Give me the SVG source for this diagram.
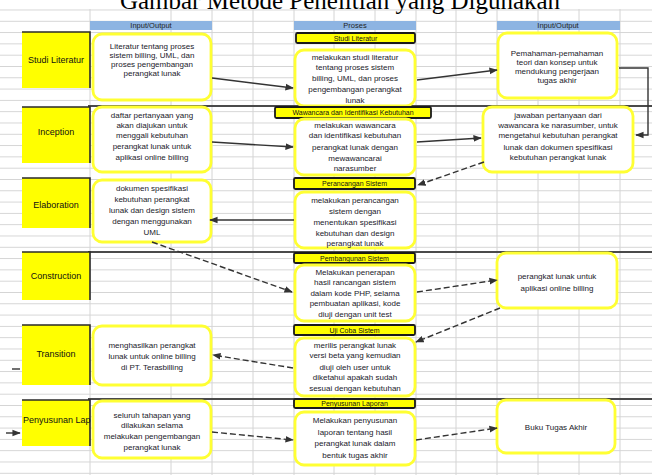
<svg xmlns="http://www.w3.org/2000/svg" width="652" height="475" viewBox="0 0 652 475">
<defs>
<style>
.vg{stroke:#d4d4d4;stroke-width:1}
.hdr{fill:#8db4e2}
.hdrt{font-family:"Liberation Sans",Arial,sans-serif;font-size:7.5px;fill:#1f1f1f;text-anchor:middle}
.lbl{fill:#ffff00}
.lblb{fill:none;stroke:#2a2a2a;stroke-width:1.6}
.lblt{font-family:"Liberation Sans",Arial,sans-serif;font-size:9px;fill:#111;text-anchor:middle}
.box{fill:#fff;stroke:#ffff33;stroke-width:2.8}
.bar{fill:#ffff00;stroke:#1a1a1a;stroke-width:1.8}
.bart{font-family:"Liberation Sans",Arial,sans-serif;font-size:7px;fill:#111;text-anchor:middle}
.t{font-family:"Liberation Sans",Arial,sans-serif;font-size:8px;fill:#1a1a2a;text-anchor:middle}
.c{fill:none;stroke:#333;stroke-width:1.4;marker-end:url(#ah)}
.d{stroke-dasharray:6 3}
.sep{stroke:#4a4a4a;stroke-width:2}
</style>
<marker id="ah" viewBox="0 0 10 10" refX="9" refY="5" markerWidth="6" markerHeight="6" orient="auto"><path d="M0,1 L10,5 L0,9 z" fill="#333"/></marker>
<pattern id="rows" x="0" y="9.5" width="652" height="11.3" patternUnits="userSpaceOnUse"><line x1="0" y1="0.5" x2="652" y2="0.5" stroke="#d4d4d4" stroke-width="1"/></pattern>
</defs>
<rect width="652" height="475" fill="#fff"/>
<rect width="652" height="475" fill="url(#rows)"/>
<g id="gridv">
<line class="vg" x1="90" y1="9" x2="90" y2="475"/>
<line class="vg" x1="171" y1="9" x2="171" y2="475"/>
<line class="vg" x1="212" y1="9" x2="212" y2="475"/>
<line class="vg" x1="253" y1="9" x2="253" y2="475"/>
<line class="vg" x1="294" y1="9" x2="294" y2="475"/>
<line class="vg" x1="334" y1="9" x2="334" y2="475"/>
<line class="vg" x1="375" y1="9" x2="375" y2="475"/>
<line class="vg" x1="416" y1="9" x2="416" y2="475"/>
<line class="vg" x1="456" y1="9" x2="456" y2="475"/>
<line class="vg" x1="497" y1="9" x2="497" y2="475"/>
<line class="vg" x1="538" y1="9" x2="538" y2="475"/>
<line class="vg" x1="579" y1="9" x2="579" y2="475"/>
<line class="vg" x1="620" y1="9" x2="620" y2="475"/>
</g>
<text x="340" y="9" font-family="Liberation Serif,Times New Roman,serif" font-size="25" text-anchor="middle" fill="#000">Gambar Metode Penelitian yang Digunakan</text>
<g id="separators">
<line class="sep" x1="88" y1="106" x2="652" y2="106"/>
<line class="sep" x1="88" y1="252" x2="652" y2="252"/>
<line class="sep" x1="88" y1="399" x2="652" y2="399"/>
</g>
<g id="headers">
<rect class="hdr" x="90" y="21" width="122" height="9"/><text class="hdrt" x="151" y="28">Input/Output</text>
<rect class="hdr" x="294" y="21" width="122" height="9"/><text class="hdrt" x="355" y="28">Proses</text>
<rect class="hdr" x="497" y="21" width="123" height="9"/><text class="hdrt" x="558" y="28">Input/Output</text>
</g>
<g id="phase-studi"><rect class="lbl" x="22" y="32" width="68" height="56"/><path class="lblb" d="M22 32 H90 V88"/><text class="lblt" x="56" y="63">Studi Literatur</text></g>
<g id="phase-inception"><rect class="lbl" x="22" y="107" width="68" height="56"/><path class="lblb" d="M22 107 H90 V163"/><text class="lblt" x="56" y="135">Inception</text></g>
<g id="phase-elaboration"><rect class="lbl" x="22" y="178" width="68" height="50"/><path class="lblb" d="M22 178 H90 V228"/><text class="lblt" x="56" y="208">Elaboration</text></g>
<g id="phase-construction"><rect class="lbl" x="22" y="252" width="68" height="48"/><path class="lblb" d="M22 252 H90 V300"/><text class="lblt" x="56" y="279">Construction</text></g>
<g id="phase-transition"><rect class="lbl" x="22" y="325" width="68" height="60"/><path class="lblb" d="M22 325 H90 V385"/><text class="lblt" x="56" y="357">Transition</text></g>
<g id="phase-penyusunan"><rect class="lbl" x="22" y="400" width="68" height="46"/><path class="lblb" d="M22 400 H90 V446"/><text class="lblt" x="23" y="423" style="text-anchor:start">Penyusunan Lap</text></g>

<g id="L1"><rect class="box" x="93" y="34" width="118" height="66" rx="9"/><text class="t"><tspan x="152" y="49">Literatur tentang proses</tspan><tspan x="152" y="58">sistem billing, UML, dan</tspan><tspan x="152" y="67">proses pengembangan</tspan><tspan x="152" y="76">perangkat lunak</tspan></text></g>
<g id="P1bar"><rect class="bar" x="296" y="33" width="119" height="10" rx="1.5"/><text class="bart" x="355.5" y="40.5">Studi Literatur</text></g>
<g id="M1"><rect class="box" x="295" y="50" width="120" height="56" rx="9"/><text class="t"><tspan x="355" y="60">melakukan studi literatur</tspan><tspan x="355" y="70">tentang proses sistem</tspan><tspan x="355" y="81">billing, UML, dan proses</tspan><tspan x="355" y="92">pengembangan perangkat</tspan><tspan x="355" y="103">lunak</tspan></text></g>
<g id="R1"><rect class="box" x="498" y="33" width="119" height="65" rx="9"/><text class="t"><tspan x="557" y="56">Pemahaman-pemahaman</tspan><tspan x="557" y="65">teori dan konsep untuk</tspan><tspan x="557" y="74">mendukung pengerjaan</tspan><tspan x="557" y="83">tugas akhir</tspan></text></g>

<g id="P2bar"><rect class="bar" x="275" y="107" width="156" height="11" rx="1.5"/><text class="bart" x="353" y="115">Wawancara dan Identifikasi Kebutuhan</text></g>
<g id="L2"><rect class="box" x="93" y="107" width="118" height="65" rx="9"/><text class="t"><tspan x="152" y="118">daftar pertanyaan yang</tspan><tspan x="152" y="128">akan diajukan untuk</tspan><tspan x="152" y="138">menggali kebutuhan</tspan><tspan x="152" y="149">perangkat lunak untuk</tspan><tspan x="152" y="160">aplikasi online billing</tspan></text></g>
<g id="M2"><rect class="box" x="295" y="119" width="120" height="56" rx="9"/><text class="t"><tspan x="355" y="128">melakukan wawancara</tspan><tspan x="355" y="138">dan identifikasi kebutuhan</tspan><tspan x="355" y="150">perangkat lunak dengan</tspan><tspan x="355" y="161">mewawancarai</tspan><tspan x="355" y="171">narasumber</tspan></text></g>
<g id="R2"><rect class="box" x="483" y="107" width="150" height="65" rx="9"/><text class="t"><tspan x="558" y="118">jawaban pertanyaan dari</tspan><tspan x="558" y="128">wawancara ke narasumber, untuk</tspan><tspan x="558" y="138">mengetahui kebutuhan perangkat</tspan><tspan x="558" y="150">lunak dan dokumen spesifikasi</tspan><tspan x="558" y="160">kebutuhan perangkat lunak</tspan></text></g>

<g id="P3bar"><rect class="bar" x="294" y="178" width="121" height="11" rx="1.5"/><text class="bart" x="354.5" y="186">Perancangan Sistem</text></g>
<g id="L3"><rect class="box" x="93" y="180" width="118" height="62" rx="9"/><text class="t"><tspan x="152" y="191">dokumen spesifikasi</tspan><tspan x="152" y="202">kebutuhan perangkat</tspan><tspan x="152" y="213">lunak dan design sistem</tspan><tspan x="152" y="224">dengan menggunakan</tspan><tspan x="152" y="235">UML</tspan></text></g>
<g id="M3"><rect class="box" x="295" y="192" width="120" height="56" rx="9"/><text class="t"><tspan x="355" y="203">melakukan perancangan</tspan><tspan x="355" y="214">sistem dengan</tspan><tspan x="355" y="225">menentukan spesifikasi</tspan><tspan x="355" y="236">kebutuhan dan design</tspan><tspan x="355" y="246">perangkat lunak</tspan></text></g>

<g id="P4bar"><rect class="bar" x="294" y="253" width="121" height="10" rx="1.5"/><text class="bart" x="354.5" y="260.5">Pembangunan Sistem</text></g>
<g id="M4"><rect class="box" x="295" y="265" width="120" height="56" rx="9"/><text class="t"><tspan x="355" y="275">Melakukan penerapan</tspan><tspan x="355" y="285">hasil rancangan sistem</tspan><tspan x="355" y="296">dalam kode PHP, selama</tspan><tspan x="355" y="306">pembuatan aplikasi, kode</tspan><tspan x="355" y="317">diuji dengan unit test</tspan></text></g>
<g id="R3"><rect class="box" x="497" y="253" width="120" height="55" rx="9"/><text class="t"><tspan x="557" y="279">perangkat lunak untuk</tspan><tspan x="557" y="291">aplikasi online billing</tspan></text></g>

<g id="P5bar"><rect class="bar" x="294" y="325" width="121" height="10" rx="1.5"/><text class="bart" x="354.5" y="332.5">Uji Coba Sistem</text></g>
<g id="L4"><rect class="box" x="93" y="326" width="118" height="59" rx="9"/><text class="t"><tspan x="152" y="348">menghasilkan perangkat</tspan><tspan x="152" y="359">lunak untuk online billing</tspan><tspan x="152" y="370">di PT. Terasbilling</tspan></text></g>
<g id="M5"><rect class="box" x="295" y="338" width="120" height="58" rx="9"/><text class="t"><tspan x="355" y="348">merilis perangkat lunak</tspan><tspan x="355" y="358">versi beta yang kemudian</tspan><tspan x="355" y="370">diuji oleh user untuk</tspan><tspan x="355" y="380">diketahui apakah sudah</tspan><tspan x="355" y="391">sesuai dengan kebutuhan</tspan></text></g>

<g id="P6bar"><rect class="bar" x="294" y="399" width="121" height="9" rx="1.5"/><text class="bart" x="354.5" y="406">Penyusunan Laporan</text></g>
<g id="L5"><rect class="box" x="93" y="401" width="118" height="57" rx="9"/><text class="t"><tspan x="152" y="418">seluruh tahapan yang</tspan><tspan x="152" y="428">dilakukan selama</tspan><tspan x="152" y="439">melakukan pengembangan</tspan><tspan x="152" y="450">perangkat lunak</tspan></text></g>
<g id="M6"><rect class="box" x="295" y="412" width="120" height="53" rx="9"/><text class="t"><tspan x="355" y="423">Melakukan penyusunan</tspan><tspan x="355" y="435">laporan tentang hasil</tspan><tspan x="355" y="446">perangkat lunak dalam</tspan><tspan x="355" y="458">bentuk tugas akhir</tspan></text></g>
<g id="R4"><rect class="box" x="497" y="400" width="118" height="53" rx="9"/><text class="t" x="556" y="430">Buku Tugas Akhir</text></g>

<g id="connectors">
<path class="c" d="M212 78 L293 88"/>
<path class="c" d="M417 80 L497 70"/>
<path class="c" d="M619 68 H648 V135 H636"/>
<path class="c" d="M212 142 L293 147"/>
<path class="c" d="M417 142 L481 138"/>
<path class="c d" d="M484 162 L418 185"/>
<path class="c" d="M294 220 L210 220"/>
<path class="c d" d="M152 242 L292 292"/>
<path class="c d" d="M417 292 L497 280"/>
<path class="c d" d="M500 308 L416 342"/>
<path class="c d" d="M293 368 L213 355"/>
<path class="c d" d="M212 432 L293 440"/>
<path class="c d" d="M416 440 L497 428"/>
<path fill="none" stroke="#333" stroke-width="1.4" d="M12 369 H20"/>
<path class="c" d="M6 433 H20"/>
</g>
</svg>
